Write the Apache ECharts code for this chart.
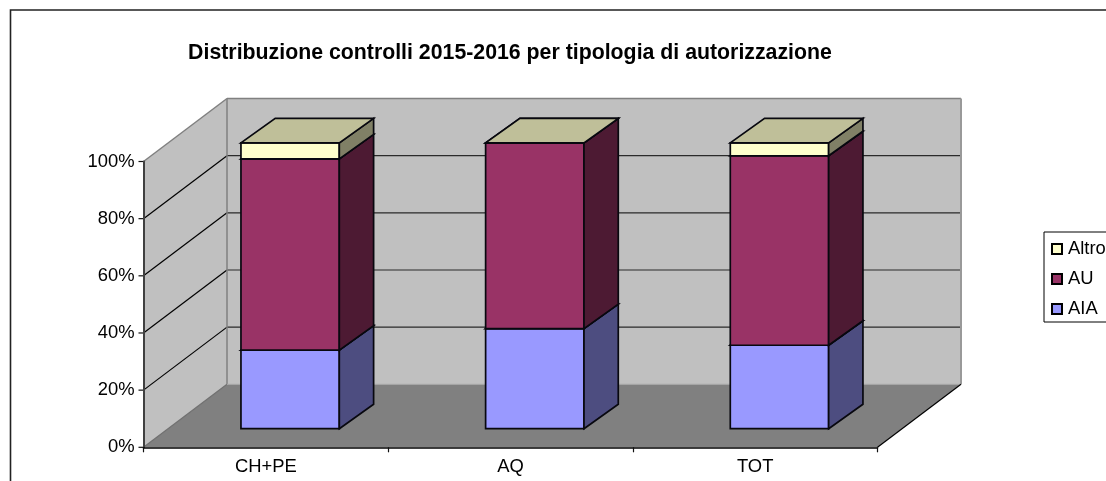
<!DOCTYPE html>
<html><head><meta charset="utf-8">
<style>html,body{margin:0;padding:0;background:#fff}#c{width:1106px;height:481px}</style>
<script src="https://cdn.jsdelivr.net/npm/echarts@6/dist/echarts.min.js"></script>
</head><body><div id="c"></div>
<script>
const categories = ['CH+PE','AQ','TOT'];
const AIA = [27.5, 35, 29.2];
const AU = [66.9, 65, 66.3];
const Altro = [5.6, 0, 4.5];
const yTicks = [0,20,40,60,80,100];
const FONT = '"Liberation Sans", Arial, sans-serif';
const DX = 83.5, DY = -63, FX = 24.3, FY = -18.6, BX = 34.3, BY = -24.5;

function poly(points, fill, stroke, lw, z2) {
  return {type:'polygon', shape:{points}, style:{fill, stroke: stroke||'none', lineWidth: lw||0, lineJoin:'miter'}, z2: z2||0};
}
function line(p, q, stroke, lw) {
  return {type:'line', shape:{x1:p[0],y1:p[1],x2:q[0],y2:q[1]}, style:{stroke, lineWidth:lw||1}};
}
function renderWalls(params, api) {
  const c = params.coordSys;
  const L = c.x, R = c.x + c.width, T = c.y, B = c.y + c.height;
  const kids = [
    poly([[L,B],[L,T],[L+DX,T+DY],[L+DX,B+DY]], '#C0C0C0'),
    poly([[L+DX,B+DY],[L+DX,T+DY],[R+DX,T+DY],[R+DX,B+DY]], '#C0C0C0'),
    poly([[L,B],[L+DX,B+DY],[R+DX,B+DY],[R,B]], '#808080')
  ];
  yTicks.forEach(t => {
    const y = api.coord([0,t])[1];
    kids.push(line([L-5,y],[L,y],'#111',1.2));
    if (t > 0 && t < 100) {
      kids.push(line([L,y],[L+DX,y+DY],'#000',1.2));
      kids.push(line([L+DX,y+DY],[R+DX,y+DY],'#2a2a2a',1.2));
    }
  });
  kids.push(line([L,T],[L+DX,T+DY],'#808080',1.5));
  kids.push(line([L,B],[L+DX,B+DY],'#707070',1.2));
  kids.push(line([L+DX,T+DY],[R+DX,T+DY],'#808080',1.5));
  kids.push(line([L+DX,T+DY],[L+DX,B+DY],'#808080',1.5));
  kids.push(line([R+DX,T+DY],[R+DX,B+DY],'#999',2));
  kids.push(line([L+DX,B+DY],[R+DX,B+DY],'#A8A8A8',1));
  kids.push(line([R,B],[R+DX,B+DY],'#000',1.2));
  return {type:'group', children:kids};
}
function bar3d(front, side, topc) {
  return function(params, api) {
    const i = api.value(0);
    const x0 = api.coord([i, api.value(1)]);
    const x1 = api.coord([i, api.value(2)]);
    const w = api.size([1,0])[0] * 0.402;
    const l = x0[0] - w/2 + FX, r = l + w;
    const yb = x0[1] + FY, yt = x1[1] + FY;
    const s = '#08080f', lw = 1.7;
    return {type:'group', children:[
      poly([[l,yb],[r,yb],[r,yt],[l,yt]], front, s, lw),
      poly([[r,yb],[r+BX,yb+BY],[r+BX,yt+BY],[r,yt]], side, s, lw),
      poly([[l,yt],[r,yt],[r+BX,yt+BY],[l+BX,yt+BY]], topc, s, lw)
    ]};
  };
}
const stacks = [];
function stacked(vals) {
  return vals.map((v,i) => { const b = stacks[i]||0; stacks[i] = b+v; return [i,b,b+v]; });
}
const chart = echarts.init(document.getElementById('c'), null, {renderer:'canvas'});
function seriesOf(name, vals, front, side, topc) {
  return {type:'custom', name, data: stacked(vals), renderItem: bar3d(front,side,topc),
    encode:{x:0,y:[1,2]}, itemStyle:{color:front, borderColor:'#000', borderWidth:1}, z:3, silent:true};
}
chart.setOption({
  animation:false,
  backgroundColor:'#fff',
  graphic:[{type:'rect', z:-1, shape:{x:10.5,y:10,width:1300,height:800}, style:{fill:'none',stroke:'#222',lineWidth:1.6}}],
  title:{text:'Distribuzione controlli 2015-2016 per tipologia di autorizzazione', left:505, top:38, textAlign:'center',
    textStyle:{fontFamily:FONT,fontSize:21.3,fontWeight:'bold',color:'#000'}},
  legend:{orient:'vertical', left:1044, top:232, padding:[8,30,4,7], itemWidth:10, itemHeight:10, itemGap:12, icon:'rect',
    backgroundColor:'#fff', borderColor:'#000', borderWidth:1, data:['Altro','AU','AIA'],
    textStyle:{fontFamily:FONT,fontSize:18.4,color:'#000',padding:[0,0,0,1]}},
  grid:{left:143.5,right:228.5,top:161.5,bottom:33.7,containLabel:false},
  xAxis:{type:'category',data:categories,z:5,boundaryGap:true,
    axisLine:{show:true,lineStyle:{color:'#000',width:1.5}},axisTick:{show:true,alignWithLabel:false,length:5,lineStyle:{color:'#111',width:1.2}},
    axisLabel:{fontFamily:FONT,fontSize:18.4,color:'#000',margin:11},splitLine:{show:false}},
  yAxis:{type:'value',min:0,max:100,interval:20,z:5,
    axisLine:{show:true,lineStyle:{color:'#404040',width:2}},axisTick:{show:false},
    axisLabel:{fontFamily:FONT,fontSize:18.4,color:'#000',margin:9,padding:[1,0,0,0],formatter:'{value}%'},splitLine:{show:false}},
  series:[
    {type:'custom',name:'walls',data:[[0,0]],renderItem:renderWalls,encode:{x:0,y:1},z:1,silent:true},
    seriesOf('AIA',AIA,'#9999FF','#4D4D80','#7373BF'),
    seriesOf('AU',AU,'#993366','#4D1A33','#73264D'),
    seriesOf('Altro',Altro,'#FFFFCC','#808066','#BFBF99')
  ]
});
</script></body></html>
